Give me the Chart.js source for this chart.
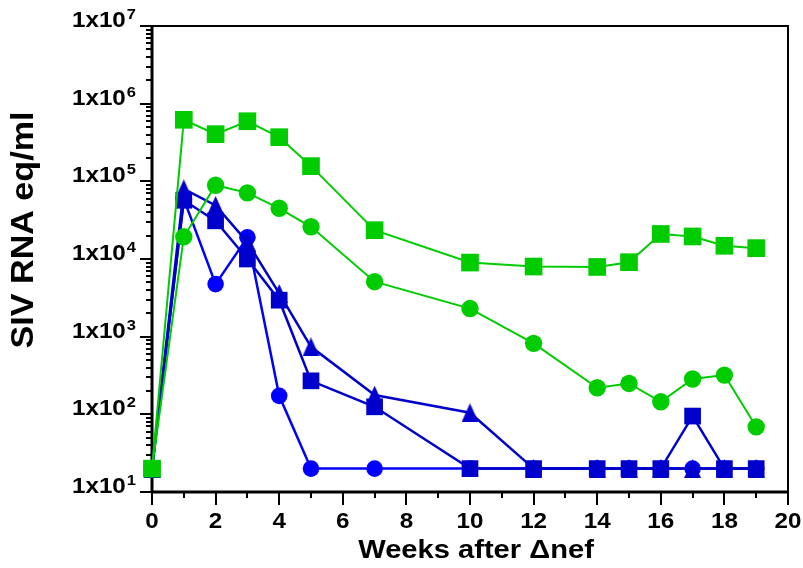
<!DOCTYPE html>
<html>
<head>
<meta charset="utf-8">
<script src="https://cdn.jsdelivr.net/npm/chart.js@4/dist/chart.umd.min.js"></script>
<style>
  html, body { margin: 0; padding: 0; background: #ffffff; }
  #c { display: block; }
</style>
</head>
<body>
<canvas id="c" width="803" height="568"></canvas>
<script>
// Sampling times (weeks after the Δnef inoculation)
const weeks = [0, 1, 2, 3, 4, 5, 7, 10, 12, 14, 15, 16, 17, 18, 19];

// Plasma SIV RNA (copy eq/ml) per animal
const greenSquares  = [20, 620000, 405000, 594000, 370000, 157000, 23500, 9000, 8000, 7900, 9100, 21000, 19500, 14800, 13800];
const greenCircles  = [20, 19300, 89000, 71000, 45000, 26000, 5100, 2300, 820, 220, 250, 145, 285, 320, 69];
const blueSquares   = [20, 57000, 31000, 10000, 2950, 270, 125, 20, 20, 20, 20, 20, 95, 20, 20];
const blueTriangles = [20, 80000, 49000, 16500, 3600, 740, 177, 105, 20, 20, 20, 20, 20, 20, 20];
const blueCircles   = [20, 59000, 4750, 19000, 173, 20, 20, 20, 20, 20, 20, 20, 20, 20, 20];

// Axis tick labels
const yTickExponents = [1, 2, 3, 4, 5, 6, 7];
const xTickLabels = [0, 2, 4, 6, 8, 10, 12, 14, 16, 18, 20];

const GREEN = '#00cc00';
const BLUE = '#0000cc';
const BRIGHT_BLUE = '#0000ff';

function toPoints(values) {
  return weeks.map((w, i) => ({ x: w, y: values[i] })).filter(p => p.y != null);
}

function triangleImage(color, w, h) {
  const c = document.createElement('canvas');
  c.width = w; c.height = h;
  const g = c.getContext('2d');
  g.fillStyle = color;
  g.beginPath();
  g.moveTo(w / 2, 0);
  g.lineTo(w, h);
  g.lineTo(0, h);
  g.closePath();
  g.fill();
  return c;
}

function series(values, color, style, radius, lineWidth) {
  return {
    data: toPoints(values),
    borderColor: color,
    backgroundColor: color,
    borderWidth: lineWidth,
    pointStyle: style,
    pointRadius: radius,
    pointBackgroundColor: color,
    pointBorderColor: color,
    pointBorderWidth: 0,
    tension: 0,
    fill: false,
    clip: false
  };
}

// Text drawn with a slight horizontal stretch to match wide Helvetica bold
function stretchText(ctx, text, x, y, sx, align) {
  ctx.save();
  ctx.translate(x, y);
  ctx.scale(sx, 1);
  ctx.textAlign = align;
  ctx.fillText(text, 0, 0);
  ctx.restore();
}

const FONT = '"Liberation Sans", Arial, Helvetica, sans-serif';

const axisPainter = {
  id: 'axisPainter',
  beforeDatasetsDraw(chart) {
    const { ctx, chartArea: a, scales } = chart;
    const xs = scales.x, ys = scales.y;
    ctx.save();
    ctx.strokeStyle = '#000';
    ctx.fillStyle = '#000';
    ctx.lineCap = 'butt';

    // frame: top and right
    ctx.lineWidth = 2;
    ctx.beginPath();
    ctx.moveTo(a.left, a.top);
    ctx.lineTo(a.right, a.top);
    ctx.lineTo(a.right, a.bottom);
    ctx.stroke();

    // axes: left and bottom
    ctx.lineWidth = 3;
    ctx.beginPath();
    ctx.moveTo(a.left, a.top - 1);
    ctx.lineTo(a.left, a.bottom);
    ctx.moveTo(a.left - 1, a.bottom);
    ctx.lineTo(a.right + 1, a.bottom);
    ctx.stroke();

    // y ticks (decades with minor 2..9)
    ctx.lineWidth = 2;
    ctx.beginPath();
    for (const e of yTickExponents) {
      for (let m = 1; m <= 9; m++) {
        if (e === yTickExponents[yTickExponents.length - 1] && m > 1) break;
        const py = Math.round(ys.getPixelForValue(m * Math.pow(10, e)));
        const len = m === 1 ? 12 : 6;
        ctx.moveTo(a.left - len, py);
        ctx.lineTo(a.left, py);
      }
    }
    ctx.stroke();

    // x ticks (major every 2 weeks, minor every week)
    ctx.beginPath();
    for (let w = 0; w <= 20; w++) {
      const px = Math.round(xs.getPixelForValue(w));
      const len = w % 2 === 0 ? 13 : 6;
      ctx.moveTo(px, a.bottom);
      ctx.lineTo(px, a.bottom + len);
    }
    ctx.stroke();

    // y tick labels: 1x10 with superscript exponent
    ctx.textBaseline = 'alphabetic';
    const rightEdge = 136;
    for (const e of yTickExponents) {
      const py = ys.getPixelForValue(Math.pow(10, e));
      ctx.font = 'bold 15px ' + FONT;
      const expW = ctx.measureText(String(e)).width * 1.1;
      stretchText(ctx, String(e), rightEdge - expW, py - 7, 1.1, 'left');
      ctx.font = 'bold 22px ' + FONT;
      stretchText(ctx, '1x10', rightEdge - expW - 1, py + 1, 1.1, 'right');
    }

    // x tick labels
    ctx.font = 'bold 22px ' + FONT;
    for (const v of xTickLabels) {
      stretchText(ctx, String(v), xs.getPixelForValue(v), 528, 1.1, 'center');
    }

    // axis titles
    ctx.font = 'bold 26px ' + FONT;
    stretchText(ctx, 'Weeks after \u0394nef', 476, 558, 1.12, 'center');

    ctx.save();
    ctx.translate(33, 230);
    ctx.rotate(-Math.PI / 2);
    ctx.font = 'bold 31px ' + FONT;
    stretchText(ctx, 'SIV RNA eq/ml', 0, 0, 1.1, 'center');
    ctx.restore();

    ctx.restore();
  }
};

new Chart(document.getElementById('c'), {
  type: 'line',
  data: {
    datasets: [
      series(greenSquares, GREEN, 'rect', 12.5, 2),
      series(greenCircles, GREEN, 'circle', 8.7, 2),
      series(blueSquares, BLUE, 'rect', 11.8, 2.5),
      series(blueTriangles, BLUE, triangleImage(BLUE, 17, 19), 9, 2.5),
      series(blueCircles, BRIGHT_BLUE, 'circle', 8.3, 2.5)
    ]
  },
  options: {
    responsive: false,
    animation: false,
    devicePixelRatio: 1,
    layout: { padding: { top: 26, right: 15, left: 0, bottom: 0 } },
    plugins: { legend: { display: false }, tooltip: { enabled: false } },
    scales: {
      x: {
        type: 'linear', min: 0, max: 20,
        grid: { display: false }, border: { display: false },
        ticks: { display: false },
        afterFit(s) { s.height = 76; }
      },
      y: {
        type: 'logarithmic', min: 10, max: 1e7,
        grid: { display: false }, border: { display: false },
        ticks: { display: false },
        afterFit(s) { s.width = 152; }
      }
    }
  },
  plugins: [axisPainter]
});
</script>
</body>
</html>
